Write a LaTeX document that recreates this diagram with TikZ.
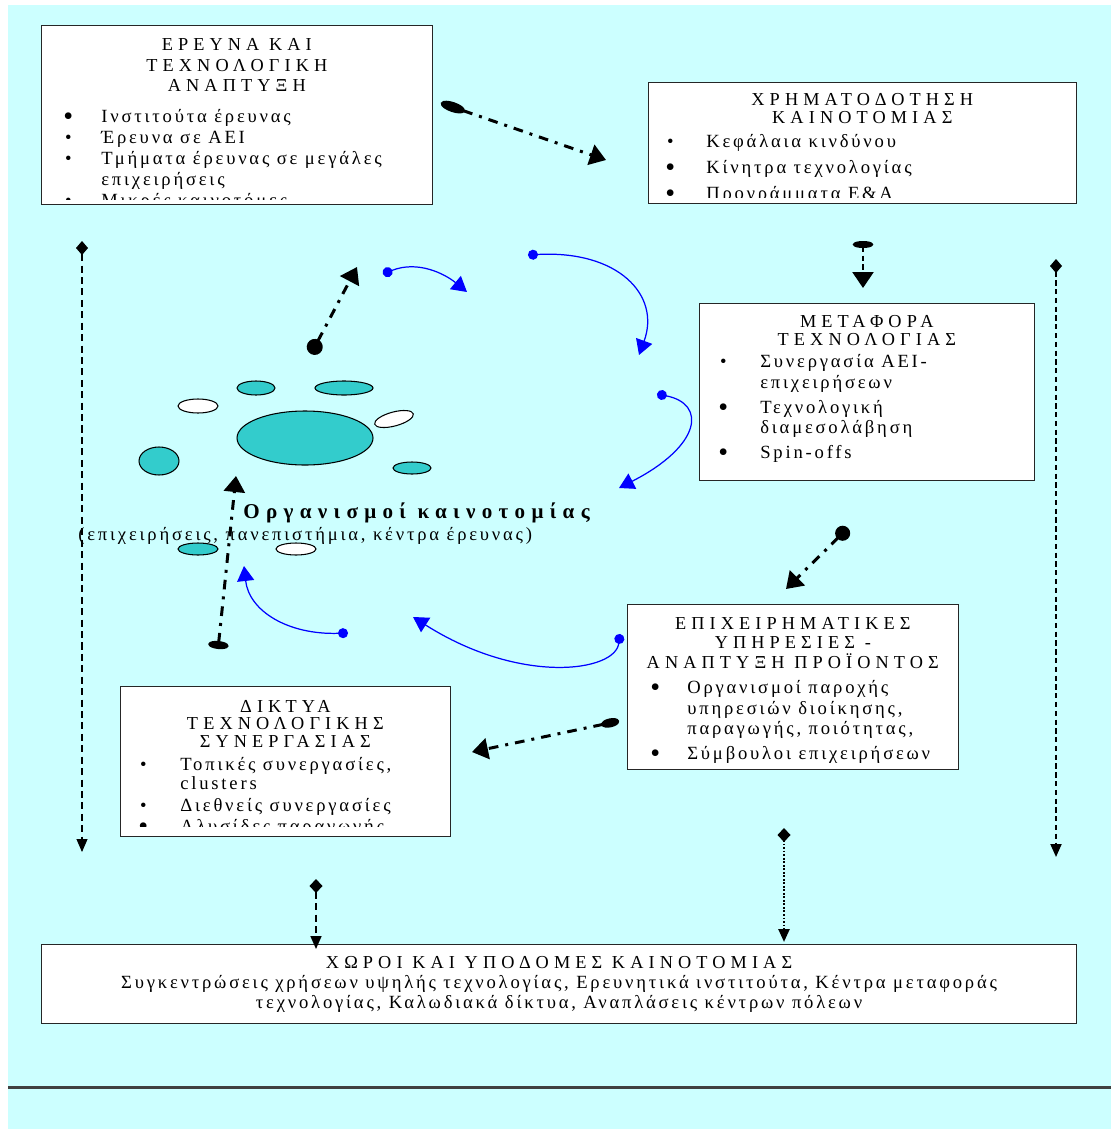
\documentclass[tikz,border=0pt]{standalone}
\usepackage{fontspec}
\setmainfont{Liberation Serif}
\newfontfamily\ttlfont[LetterSpace=28]{Liberation Serif}
\newfontfamily\txtfont[LetterSpace=15]{Liberation Serif}
\newfontfamily\orgfont[LetterSpace=30]{Liberation Serif}
\usetikzlibrary{arrows.meta,positioning}
\definecolor{bgcyan}{RGB}{204,255,255}
\definecolor{orgteal}{RGB}{51,204,204}

\newlength{\bulx}
\newlength{\txtx}
\newcommand{\sbul}{\textbullet}
\newcommand{\bbul}{\raisebox{-1.6pt}{\fontsize{16}{16}\selectfont\textbullet}}
\newcommand{\boxttl}[2]{{\centering\ttlfont\fontsize{10.4}{#1}\selectfont #2\par}}
\newcommand{\bodyset}[5]{\setlength{\bulx}{#1}\setlength{\txtx}{#2}%
  \txtfont\fontsize{10.6}{#3}\selectfont\setlength{\parskip}{#4}\vspace{#5}}
\newcommand{\itm}[2]{\par\hangindent=\txtx\hangafter=1\noindent
  \hspace*{\bulx}\makebox[0pt][c]{#1}\hspace*{-\bulx}\hspace*{\txtx}#2}

\tikzstyle{infobox} = [rectangle, draw=black!85, line width=0.8pt, fill=white,
  anchor=north west, inner sep=0pt]
\tikzstyle{boxtext} = [inner sep=0pt]
\tikzstyle{dashdotline} = [line width=1.7pt, dash pattern=on 5.5pt off 4pt on 1.7pt off 4pt]
\tikzstyle{thinline} = [line width=0.6pt, dash pattern=on 4pt off 2.5pt]
\tikzstyle{bluearrow} = [blue, line width=0.7pt, {Circle[length=0.2cm]}-bluetri]
\tikzstyle{blob} = [draw=black, line width=0.6pt]
\tikzset{bigtri/.tip={Triangle[length=0.32cm,width=0.42cm]},
  smalltri/.tip={Triangle[length=0.26cm,width=0.22cm]},
  bluetri/.tip={Triangle[length=0.3cm,width=0.34cm]}}

\begin{document}
\begin{tikzpicture}[x=0.02cm,y=-0.02cm]
  \useasboundingbox (0,0) rectangle (1111,1129);
  \fill [white] (0,0) rectangle (1111,1129);
  \fill [bgcyan] (8,5) rectangle (1111,1129);
  \draw [line width=0.06cm, black!75] (8,1087) -- (1111,1087);
  %
  \node (research) [infobox, minimum width=7.82cm, minimum height=3.58cm] at (41,25) {};
  \node (funding) [infobox, minimum width=8.56cm, minimum height=2.42cm] at (648,82) {};
  \node (transfer) [infobox, minimum width=6.7cm, minimum height=3.54cm] at (699,303) {};
  \node (services) [infobox, minimum width=6.62cm, minimum height=3.3cm] at (627,604) {};
  \node (networks) [infobox, minimum width=6.6cm, minimum height=3cm] at (120,686) {};
  \node (spaces) [infobox, minimum width=20.7cm, minimum height=1.58cm] at (41,944) {};
  %
  \begin{scope}
    \clip (research.north west) rectangle ([yshift=3.4pt]research.south east);
    \node (researchtxt) [boxtext, below=0.52cm of research.north west, anchor=base west]
    {\parbox[t]{7.82cm}{\boxttl{11.6pt}{ΕΡΕΥΝΑ ΚΑΙ\\ΤΕΧΝΟΛΟΓΙΚΗ\\ΑΝΑΠΤΥΞΗ}%
      \bodyset{0.54cm}{1.2cm}{11.9pt}{0pt}{5.7pt}
      \itm{\bbul}{Ινστιτούτα έρευνας}
      \itm{\sbul}{Έρευνα σε ΑΕΙ}
      \itm{\sbul}{Τμήματα έρευνας σε μεγάλες\\επιχειρήσεις}
      \itm{\sbul}{Μικρές καινοτόμες}}};
  \end{scope}
  \begin{scope}
    \clip (funding.north west) rectangle ([yshift=4pt]funding.south east);
    \node (fundingtxt) [boxtext, below=0.48cm of funding.north west, anchor=base west]
    {\parbox[t]{8.56cm}{\boxttl{10.2pt}{ΧΡΗΜΑΤΟΔΟΤΗΣΗ\\ΚΑΙΝΟΤΟΜΙΑΣ}%
      \bodyset{0.44cm}{1.16cm}{11.9pt}{3pt}{-1.7pt}
      \itm{\sbul}{Κεφάλαια κινδύνου}
      \itm{\bbul}{Κίνητρα τεχνολογίας}
      \itm{\bbul}{Προγράμματα Ε\&Α}}};
  \end{scope}
  \node (transfertxt) [boxtext, below=0.5cm of transfer.north west, anchor=base west]
  {\parbox[t]{6.7cm}{\boxttl{10.2pt}{ΜΕΤΑΦΟΡΑ\\ΤΕΧΝΟΛΟΓΙΑΣ}%
    \bodyset{0.48cm}{1.22cm}{11.6pt}{2.6pt}{-1.7pt}
    \itm{\sbul}{Συνεργασία ΑΕΙ-\\επιχειρήσεων}
    \itm{\bbul}{Τεχνολογική\\διαμεσολάβηση}
    \itm{\bbul}{Spin-offs}}};
  \node (servicestxt) [boxtext, below=0.5cm of services.north west, anchor=base west]
  {\parbox[t]{6.62cm}{\boxttl{11.3pt}{ΕΠΙΧΕΙΡΗΜΑΤΙΚΕΣ\\ΥΠΗΡΕΣΙΕΣ -\\ΑΝΑΠΤΥΞΗ ΠΡΟΪΟΝΤΟΣ}%
    \bodyset{0.56cm}{1.2cm}{11.6pt}{2.6pt}{0pt}
    \itm{\bbul}{Οργανισμοί παροχής\\υπηρεσιών διοίκησης,\\παραγωγής, ποιότητας,}
    \itm{\bbul}{Σύμβουλοι επιχειρήσεων}}};
  \begin{scope}
    \clip (networks.north west) rectangle ([yshift=6pt]networks.south east);
    \node (networkstxt) [boxtext, below=0.52cm of networks.north west, anchor=base west]
    {\parbox[t]{6.6cm}{\boxttl{10.2pt}{ΔΙΚΤΥΑ\\ΤΕΧΝΟΛΟΓΙΚΗΣ\\ΣΥΝΕΡΓΑΣΙΑΣ}%
      \bodyset{0.46cm}{1.2cm}{10.8pt}{1.5pt}{0.7pt}
      \itm{\sbul}{Τοπικές συνεργασίες,\\clusters}
      \itm{\sbul}{Διεθνείς συνεργασίες}
      \itm{\bbul}{Αλυσίδες παραγωγής}}};
  \end{scope}
  \node (spacestxt) [boxtext, below=0.48cm of spaces.north, anchor=base]
  {\parbox[t]{20.7cm}{\centering{\ttlfont\fontsize{10.4}{11.6pt}\selectfont ΧΩΡΟΙ ΚΑΙ ΥΠΟΔΟΜΕΣ ΚΑΙΝΟΤΟΜΙΑΣ\par}
    \txtfont\fontsize{10.6}{11.6pt}\selectfont Συγκεντρώσεις χρήσεων υψηλής τεχνολογίας, Ερευνητικά ινστιτούτα, Κέντρα μεταφοράς\\
    τεχνολογίας, Καλωδιακά δίκτυα, Αναπλάσεις κέντρων πόλεων\par}};
  %
  % organisations in the middle
  \draw [blob, fill=orgteal] (305,438) ellipse [x radius=68, y radius=27];
  \draw [blob, fill=orgteal] (256,388) ellipse [x radius=19, y radius=7];
  \draw [blob, fill=orgteal] (344,388) ellipse [x radius=29, y radius=7];
  \draw [blob, fill=orgteal] (159,461) ellipse [x radius=20, y radius=14];
  \draw [blob, fill=orgteal] (412,468) ellipse [x radius=19, y radius=6];
  \draw [blob, fill=orgteal] (198,549) ellipse [x radius=20, y radius=6];
  \draw [blob, fill=white] (198,406) ellipse [x radius=20, y radius=7];
  \draw [blob, fill=white, rotate around={15:(394,419)}] (394,419) ellipse [x radius=20, y radius=7];
  \draw [blob, fill=white] (296,549) ellipse [x radius=20, y radius=6];
  \node (orgname) [boxtext, anchor=base west] at (243,518)
  {\orgfont\bfseries\fontsize{12}{14}\selectfont Οργανισμοί καινοτομίας};
  \node (orgkinds) [boxtext, anchor=base west] at (78,540)
  {\txtfont\fontsize{10.6}{12}\selectfont (επιχειρήσεις, πανεπιστήμια, κέντρα έρευνας)};
  %
  % free ends of the connectors
  \coordinate (rf1) at (441,103);  \coordinate (rf2) at (606,160);
  \coordinate (ft1) at (863,241);  \coordinate (ft2) at (863,288);
  \coordinate (ut1) at (311,354);  \coordinate (ut2) at (357,267);
  \coordinate (ct1) at (218,649);  \coordinate (ct2) at (236,476);
  \coordinate (dg1) at (848,528);  \coordinate (dg2) at (786,589);
  \coordinate (sn1) at (619,721);  \coordinate (sn2) at (472,752);
  \coordinate (lv1) at (82,241);   \coordinate (lv2) at (82,852);
  \coordinate (rv1) at (1056,259); \coordinate (rv2) at (1056,857);
  \coordinate (bl1) at (316,879);  \coordinate (bl2) at (316,949);
  \coordinate (br1) at (784,828);  \coordinate (br2) at (784,942);
  \coordinate (b1s) at (383,274);  \coordinate (b1e) at (467,292);
  \coordinate (b2s) at (528,255);  \coordinate (b2e) at (639,355);
  \coordinate (b3s) at (657,394);  \coordinate (b3e) at (619,488);
  \coordinate (b4s) at (348,633);  \coordinate (b4e) at (244,566);
  \coordinate (b5s) at (620,634);  \coordinate (b5e) at (413,617);
  %
  \draw [dashdotline, {Ellipse[length=0.5cm,width=0.2cm]}-bigtri] (rf1) -- (rf2);
  \draw [dashdotline, {Circle[length=0.32cm]}-bigtri] (ut1) -- (ut2);
  \draw [dashdotline, {Ellipse[length=0.16cm,width=0.4cm]}-bigtri] (ct1) -- (ct2);
  \draw [dashdotline, {Circle[length=0.3cm]}-bigtri] (dg1) -- (dg2);
  \draw [dashdotline, {Ellipse[length=0.36cm,width=0.18cm]}-bigtri] (sn1) -- (sn2);
  \draw [line width=1.4pt, dash pattern=on 3pt off 2pt,
    {Ellipse[length=0.14cm,width=0.4cm]}-bigtri] (ft1) -- (ft2);
  \draw [thinline, {Diamond[length=0.28cm,width=0.24cm]}-smalltri] (lv1) -- (lv2);
  \draw [thinline, line width=1.1pt, dash pattern=on 3pt off 2pt,
    {Diamond[length=0.28cm,width=0.24cm]}-smalltri] (rv1) -- (rv2);
  \draw [thinline, line width=0.9pt, {Diamond[length=0.28cm,width=0.26cm]}-smalltri] (bl1) -- (bl2);
  \draw [line width=1.4pt, dash pattern=on 1pt off 1pt,
    {Diamond[length=0.28cm,width=0.26cm]}-smalltri] (br1) -- (br2);
  %
  \draw [bluearrow] (b1s) .. controls +(35,-14) and +(-22,-18) .. (b1e);
  \draw [bluearrow] (b2s) .. controls +(90,-5) and +(22,-60) .. (b2e);
  \draw [bluearrow] (b3s) .. controls +(50,10) and +(82,-42) .. (b3e);
  \draw [bluearrow] (b4s) .. controls +(-60,2) and +(5,45) .. (b4e);
  \draw [bluearrow] (b5s) .. controls +(-5,38) and +(107,68) .. (b5e);
\end{tikzpicture}
\end{document}
